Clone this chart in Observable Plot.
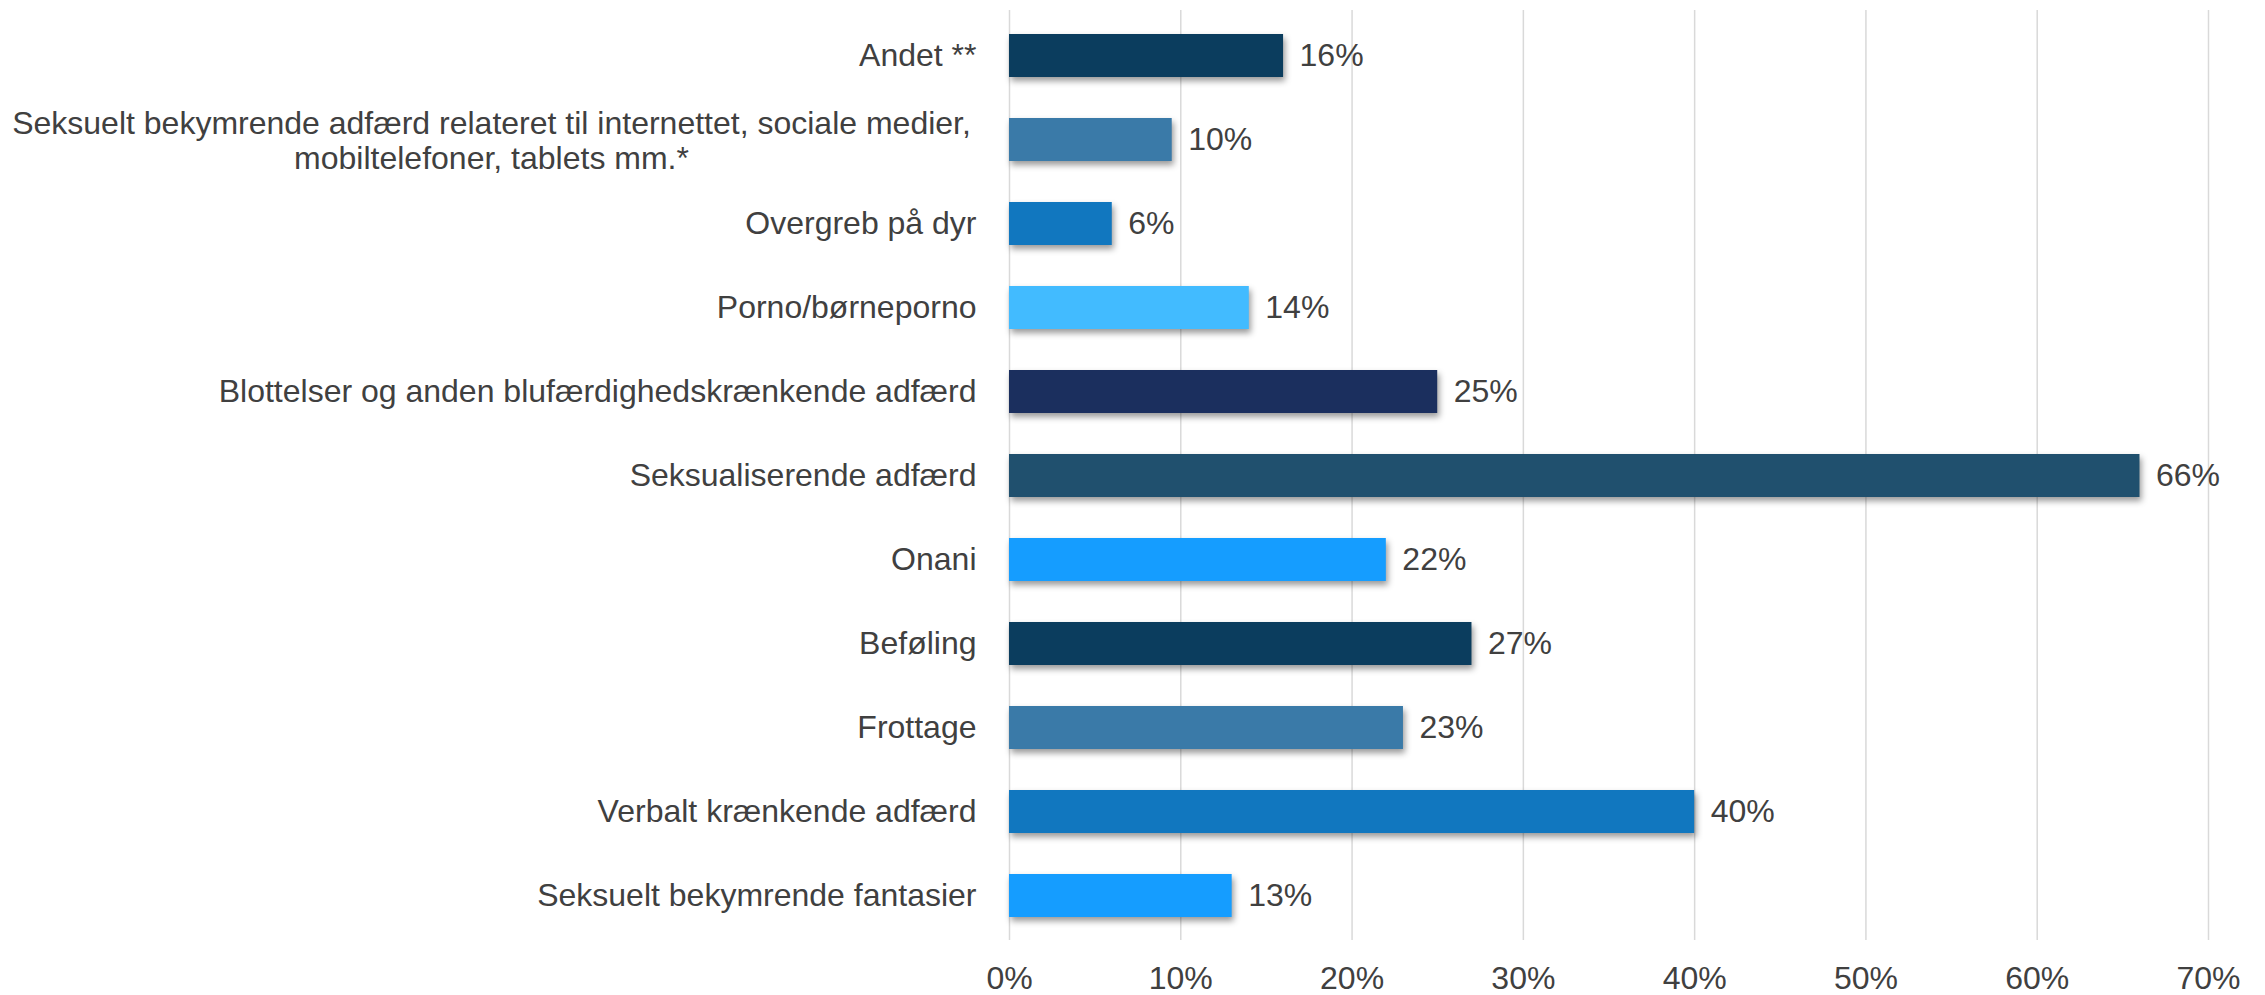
<!DOCTYPE html>
<html>
<head>
<meta charset="utf-8">
<script src="https://cdn.jsdelivr.net/npm/d3@7"></script>
<script src="https://cdn.jsdelivr.net/npm/@observablehq/plot@0.6"></script>
<style>
  html, body { margin: 0; padding: 0; background: #ffffff; }
  #chart svg [aria-label="bar"] rect { filter: drop-shadow(2px 4px 3px rgba(0,0,0,0.4)); }
</style>
</head>
<body>
<div id="chart"></div>
<script>
const categories = [
  "Andet **",
  "Seksuelt bekymrende adfærd relateret til internettet, sociale medier,\nmobiltelefoner, tablets mm.*",
  "Overgreb på dyr",
  "Porno/børneporno",
  "Blottelser og anden blufærdighedskrænkende adfærd",
  "Seksualiserende adfærd",
  "Onani",
  "Beføling",
  "Frottage",
  "Verbalt krænkende adfærd",
  "Seksuelt bekymrende fantasier"
];
const values = [16, 9.5, 6, 14, 25, 66, 22, 27, 23, 40, 13];
const labels = ["16%", "10%", "6%", "14%", "25%", "66%", "22%", "27%", "23%", "40%", "13%"];
const colors = ["#0b3d5e", "#3a7aa8", "#1177bf", "#42bbff", "#1b2f5e", "#20506e", "#159dff", "#0b3d5e", "#3a7aa8", "#1177bf", "#159dff"];
const xTicks = [0, 10, 20, 30, 40, 50, 60, 70];

const data = categories.map((c, i) => ({category: c, value: values[i], label: labels[i], color: colors[i]}));
const longLabel = categories[1];
const shortLabels = categories.filter(c => c !== longLabel);

const textColor = "#404040";
const font = "'Liberation Sans', Arial, sans-serif";
const fs = 32;

const chart = Plot.plot({
  width: 2265,
  height: 995,
  marginLeft: 1009,
  marginRight: 57,
  marginTop: 10,
  marginBottom: 55,
  style: {fontFamily: font, fontSize: fs + "px", color: textColor, background: "#ffffff"},
  x: {domain: [0, 70]},
  y: {domain: categories, paddingInner: 0.49, paddingOuter: 0.245},
  color: {type: "identity"},
  marks: [
    Plot.gridX(xTicks, {stroke: "#d9d9d9", strokeOpacity: 1, strokeWidth: 1.5}),
    Plot.barX(data, {x: "value", y: "category", fill: "color"}),
    Plot.text(data, {x: "value", y: "category", text: "label", textAnchor: "start", dx: 16, fontSize: fs, fill: textColor}),
    Plot.axisX({ticks: xTicks, tickSize: 0, tickPadding: 26, tickFormat: d => d + "%", fontSize: fs, label: null}),
    Plot.axisY({ticks: shortLabels, tickSize: 0, tickPadding: 33, fontSize: fs, label: null, textAnchor: "end"}),
    Plot.axisY({ticks: [longLabel], tickSize: 0, tickPadding: 518, fontSize: fs, label: null, textAnchor: "middle", lineHeight: 1.1})
  ]
});
document.getElementById("chart").appendChild(chart);
</script>
</body>
</html>
